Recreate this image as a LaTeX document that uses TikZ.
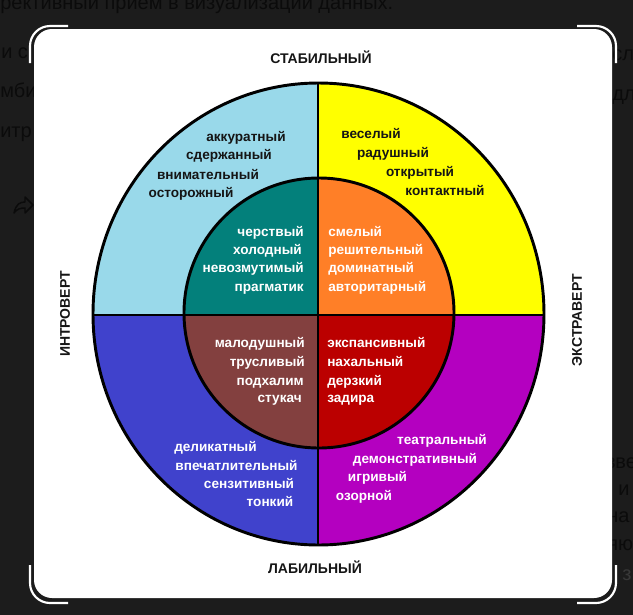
\documentclass[tikz,border=0pt]{standalone}
\usepackage{fontspec}
\setmainfont{Liberation Sans}
\definecolor{bgdark}{HTML}{1C1C1C}
\definecolor{bgtext}{HTML}{0B0B0B}
\definecolor{lblue}{HTML}{99D9EA}
\definecolor{yel}{HTML}{FFFF00}
\definecolor{tealc}{HTML}{03807B}
\definecolor{orng}{HTML}{FF7F27}
\definecolor{brwn}{HTML}{83403F}
\definecolor{redc}{HTML}{BB0000}
\definecolor{dblue}{HTML}{4042CC}
\definecolor{purp}{HTML}{B400C0}
\definecolor{ink}{HTML}{151515}
\begin{document}
\begin{tikzpicture}[x=0.75pt,y=-0.75pt,
  word/.style={font=\fontsize{10.2}{12}\selectfont\bfseries, inner sep=0pt, anchor=base},
  dk/.style={word, text=ink},
  wt/.style={word, text=white},
  axislbl/.style={font=\fontsize{10.5}{12}\selectfont\bfseries, text=ink, inner sep=0pt},
  bgtxt/.style={font=\fontsize{15}{18}\selectfont, text=bgtext, inner sep=0pt, anchor=base west},
  bracket/.style={draw=white, line width=1.6pt, rounded corners=15pt},
  sep/.style={draw=black, line width=2.2pt}]
\useasboundingbox (0,0) rectangle (633,615);
\fill[bgdark] (0,0) rectangle (633,615);
% background page text
\node[bgtxt] (t0) at (0,9) {рективный прием в визуализации данных.};
\node[bgtxt] (l1) at (1,58) {и с};
\node[bgtxt] (l2) at (0,97) {мби};
\node[bgtxt] (l3) at (0,137) {итр};
\node[bgtxt] (r1) at (612,60) {сл};
\node[bgtxt] (r2) at (612,100) {дл};
\node[bgtxt] (r3) at (606,468) {зве};
\node[bgtxt] (r4) at (618,495) {и};
\node[bgtxt] (r5) at (607,522) {на};
\node[bgtxt] (r6) at (607,550) {яю};
\node[bgtxt, text=black!78] (r7) at (622,580) {з};
\draw[bgtext, line width=1.1pt, line join=round]
  (14,213) .. controls (16,204) and (20,202) .. (25,202) -- (25,197) -- (33,205)
  -- (25,213) -- (25,208) .. controls (20,208) and (17,209) .. (14,213) -- cycle;
% white panel and corner brackets
\fill[white, rounded corners=13.5pt] (34,29) rectangle (612,598);
\draw[bracket] (30,63) -- (30,26) -- (68,26);
\draw[bracket] (577,26) -- (616,26) -- (616,63);
\draw[bracket] (616,565) -- (616,603) -- (577,603);
\draw[bracket] (30,565) -- (30,603) -- (68,603);
% outer ring quadrants
\begin{scope}
  \clip (318.5,314) ellipse [x radius=225.5, y radius=231];
  \fill[lblue] (0,0) rectangle (318,315);
  \fill[yel] (318,0) rectangle (633,315);
  \fill[dblue] (0,315) rectangle (318,615);
  \fill[purp] (318,315) rectangle (633,615);
\end{scope}
% inner quadrants
\begin{scope}
  \clip (319,313) circle [radius=135];
  \fill[tealc] (0,0) rectangle (318,315);
  \fill[orng] (318,0) rectangle (633,315);
  \fill[brwn] (0,315) rectangle (318,615);
  \fill[redc] (318,315) rectangle (633,615);
\end{scope}
\draw[sep] (318,83) -- (318,545);
\draw[sep] (93,315) -- (544,315);
\draw[sep] (319,313) circle [radius=135];
\draw[sep] (318.5,314) ellipse [x radius=225.5, y radius=231];
% axis labels
\node[axislbl, anchor=base] (stab) at (321,63) {СТАБИЛЬНЫЙ};
\node[axislbl, anchor=base] (lab) at (315,573) {ЛАБИЛЬНЫЙ};
\node[axislbl, rotate=90] (intro) at (65,314) {ИНТРОВЕРТ};
\node[axislbl, rotate=90] (extra) at (577,320) {ЭКСТРАВЕРТ};
% light blue quadrant
\node[dk] (a1) at (246,141) {аккуратный};
\node[dk] (a2) at (229,159) {сдержанный};
\node[dk] (a3) at (208,179) {внимательный};
\node[dk] (a4) at (191,197) {осторожный};
% yellow quadrant
\node[dk] (b1) at (371,138) {веселый};
\node[dk] (b2) at (393,157) {радушный};
\node[dk] (b3) at (420,176) {открытый};
\node[dk] (b4) at (445,195) {контактный};
% teal
\node[wt, anchor=base east] (e1) at (304,236) {черствый};
\node[wt, anchor=base east] (e2) at (302,254) {холодный};
\node[wt, anchor=base east] (e3) at (304,272) {невозмутимый};
\node[wt, anchor=base east] (e4) at (304,291) {прагматик};
% orange
\node[wt, anchor=base west] (f1) at (328,236) {смелый};
\node[wt, anchor=base west] (f2) at (328,254) {решительный};
\node[wt, anchor=base west] (f3) at (328,272) {доминатный};
\node[wt, anchor=base west] (f4) at (328,291) {авторитарный};
% brown
\node[wt, anchor=base east] (g1) at (305,347) {малодушный};
\node[wt, anchor=base east] (g2) at (305,366) {трусливый};
\node[wt, anchor=base east] (g3) at (304,385) {подхалим};
\node[wt, anchor=base east] (g4) at (302,402) {стукач};
% red
\node[wt, anchor=base west] (h1) at (327,347) {экспансивный};
\node[wt, anchor=base west] (h2) at (327,366) {нахальный};
\node[wt, anchor=base west] (h3) at (327,385) {дерзкий};
\node[wt, anchor=base west] (h4) at (327,402) {задира};
% blue
\node[wt] (c1) at (215.5,451) {деликатный};
\node[wt] (c2) at (236.5,470) {впечатлительный};
\node[wt] (c3) at (249,488) {сензитивный};
\node[wt] (c4) at (270,506) {тонкий};
% purple
\node[wt] (d1) at (442,444) {театральный};
\node[wt] (d2) at (415,463) {демонстративный};
\node[wt] (d3) at (377.5,481) {игривый};
\node[wt] (d4) at (364,500) {озорной};
\end{tikzpicture}
\end{document}
